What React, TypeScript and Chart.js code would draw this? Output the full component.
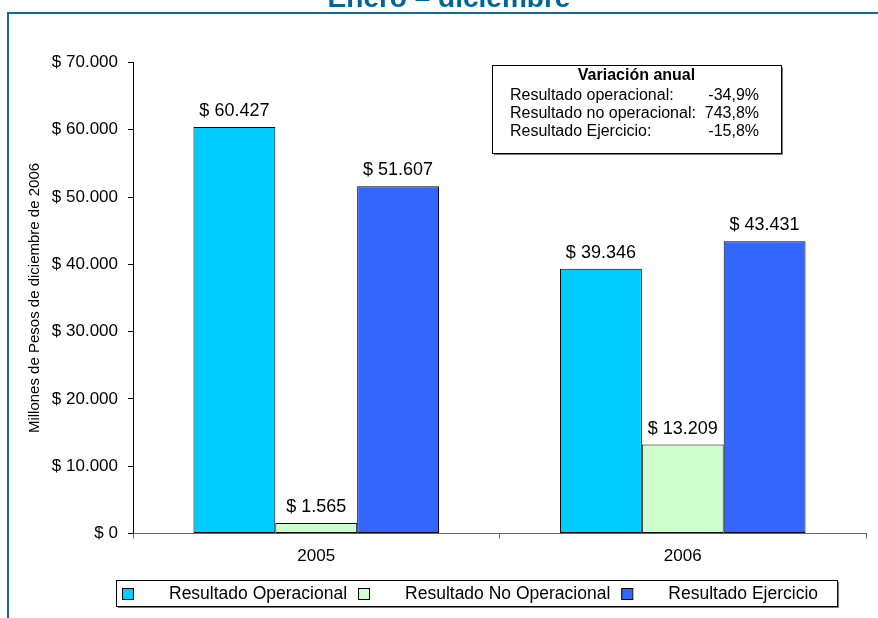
import React, { useEffect, useRef } from 'react';
import { Chart, registerables } from 'chart.js';

Chart.register(...registerables);

const chartTitle = 'Enero – diciembre';
const yAxisTitle = 'Millones de Pesos de diciembre de 2006';
const categories = ['2005', '2006'];
const seriesNames = ['Resultado Operacional', 'Resultado No Operacional', 'Resultado Ejercicio'];
const operacional = [60427, 39346];
const noOperacional = [1565, 13209];
const ejercicio = [51607, 43431];
const seriesColors = ['#00CCFF', '#CCFFCC', '#3366FF'];
const yMin = 0;
const yMax = 70000;
const yStep = 10000;
const variationTitle = 'Variación anual';
const variationLabels = ['Resultado operacional:', 'Resultado no operacional:', 'Resultado Ejercicio:'];
const variationValues = ['-34,9%', '743,8%', '-15,8%'];

const FONT = '"Liberation Sans", Arial, Helvetica, sans-serif';
const FRAME_COLOR = '#15679A';

function fmtMoney(v: number): string {
  return '$ ' + Math.round(v).toString().replace(/\B(?=(\d{3})+(?!\d))/g, '.');
}

const decorPlugin = {
  id: 'decor',
  afterDatasetsDraw(chart: any) {
    const ctx = chart.ctx as CanvasRenderingContext2D;
    ctx.save();
    ctx.font = `18px ${FONT}`;
    ctx.fillStyle = '#000';
    ctx.textAlign = 'center';
    ctx.textBaseline = 'alphabetic';
    chart.data.datasets.forEach((ds: any, i: number) => {
      const meta = chart.getDatasetMeta(i);
      meta.data.forEach((el: any, j: number) => {
        ctx.fillText(fmtMoney(ds.data[j]), el.x, el.y - 11);
      });
    });
    ctx.restore();
  },
  afterDraw(chart: any) {
    const ctx = chart.ctx as CanvasRenderingContext2D;
    const W = chart.width;
    const H = chart.height;
    ctx.save();

    // outer frame (top and left lines)
    ctx.strokeStyle = FRAME_COLOR;
    ctx.lineWidth = 2;
    ctx.beginPath();
    ctx.moveTo(W, 13);
    ctx.lineTo(8, 13);
    ctx.lineTo(8, H);
    ctx.stroke();

    // title (partially cut at top)
    ctx.fillStyle = '#006699';
    ctx.font = `bold 28px ${FONT}`;
    ctx.textAlign = 'center';
    ctx.textBaseline = 'alphabetic';
    ctx.fillText(chartTitle, 449, 7);

    // annotation box
    const bx = 492, by = 65, bw = 289, bh = 88;
    ctx.fillStyle = '#fff';
    ctx.fillRect(bx, by, bw, bh);
    ctx.strokeStyle = '#000';
    ctx.lineWidth = 1;
    ctx.strokeRect(bx + 0.5, by + 0.5, bw, bh);
    ctx.strokeStyle = '#777';
    ctx.beginPath();
    ctx.moveTo(bx + bw + 1.5, by + 2);
    ctx.lineTo(bx + bw + 1.5, by + bh + 1.5);
    ctx.lineTo(bx + 2, by + bh + 1.5);
    ctx.stroke();

    ctx.fillStyle = '#000';
    ctx.textBaseline = 'middle';
    ctx.font = `bold 16px ${FONT}`;
    ctx.textAlign = 'center';
    ctx.fillText(variationTitle, bx + bw / 2, by + 11);
    ctx.font = `16px ${FONT}`;
    variationLabels.forEach((lab, i) => {
      const y = by + 31 + i * 18;
      ctx.textAlign = 'left';
      ctx.fillText(lab, bx + 18, y);
      ctx.textAlign = 'right';
      ctx.fillText(variationValues[i], bx + 267, y);
    });

    // legend
    ctx.font = `17.5px ${FONT}`;
    const lx = 116, ly = 580, lh = 26;
    const items = chart.data.datasets.map((ds: any) => ({ label: ds.label, color: ds.backgroundColor }));
    let x = lx + 6;
    const layout: { mx: number; tx: number }[] = [];
    let end = x;
    items.forEach((it: any) => {
      const tx = x + 47;
      const w = ctx.measureText(it.label).width;
      layout.push({ mx: x, tx });
      end = tx + w;
      x = end + 11;
    });
    const lw = end + 19 - lx;
    ctx.fillStyle = '#fff';
    ctx.fillRect(lx, ly, lw, lh);
    ctx.strokeStyle = '#000';
    ctx.lineWidth = 1;
    ctx.strokeRect(lx + 0.5, ly + 0.5, lw, lh);
    ctx.strokeStyle = '#777';
    ctx.beginPath();
    ctx.moveTo(lx + lw + 1.5, ly + 2);
    ctx.lineTo(lx + lw + 1.5, ly + lh + 1.5);
    ctx.lineTo(lx + 2, ly + lh + 1.5);
    ctx.stroke();
    items.forEach((it: any, i: number) => {
      const { mx, tx } = layout[i];
      ctx.fillStyle = it.color;
      ctx.fillRect(mx, ly + 8, 11, 11);
      ctx.strokeStyle = '#000';
      ctx.strokeRect(mx + 0.5, ly + 8.5, 11, 11);
      ctx.fillStyle = '#000';
      ctx.textAlign = 'left';
      ctx.textBaseline = 'middle';
      ctx.fillText(it.label, tx, ly + 14);
    });

    ctx.restore();
  },
};

export default function App() {
  const canvasRef = useRef<HTMLCanvasElement | null>(null);

  useEffect(() => {
    document.body.style.margin = '0';
    const canvas = canvasRef.current;
    if (!canvas) return;
    const seriesData = [operacional, noOperacional, ejercicio];
    const chart = new Chart(canvas, {
      type: 'bar',
      data: {
        labels: categories,
        datasets: seriesNames.map((name, i) => ({
          label: name,
          data: seriesData[i],
          backgroundColor: seriesColors[i],
          borderColor: '#000',
          borderWidth: 1,
          borderSkipped: false,
          categoryPercentage: 0.67,
          barPercentage: 1.0,
        })),
      },
      options: {
        animation: false,
        responsive: false,
        maintainAspectRatio: false,
        layout: { padding: { top: 62.5, left: 8, right: 12, bottom: 44.5 } },
        plugins: {
          legend: { display: false },
          tooltip: { enabled: false },
          title: { display: false },
        },
        scales: {
          x: {
            grid: { display: true, drawOnChartArea: false, drawTicks: true, tickLength: 5, color: '#666', offset: true },
            border: { display: true, color: '#666', width: 1 },
            ticks: { color: '#000', font: { family: FONT, size: 17 }, padding: 8 },
            afterFit: (scale: any) => { scale.height = 40; },
          },
          y: {
            min: yMin,
            max: yMax,
            ticks: {
              stepSize: yStep,
              color: '#000',
              font: { family: FONT, size: 17 },
              padding: 10,
              callback: (v: any) => fmtMoney(Number(v)),
            },
            grid: { display: true, drawOnChartArea: false, drawTicks: true, tickLength: 5, color: '#000' },
            border: { display: true, color: '#000', width: 1 },
            title: {
              display: true,
              text: yAxisTitle,
              color: '#000',
              font: { family: FONT, size: 15 },
              padding: { top: 18, bottom: 0 },
            },
            afterFit: (scale: any) => { scale.width = 125; },
          },
        },
      },
      plugins: [decorPlugin],
    });
    return () => chart.destroy();
  }, []);

  return (
    <div style={{ position: 'absolute', left: 0, top: 0, width: 878, height: 618, background: '#fff' }}>
      <canvas ref={canvasRef} width={878} height={618} style={{ width: 878, height: 618, display: 'block' }} />
    </div>
  );
}
